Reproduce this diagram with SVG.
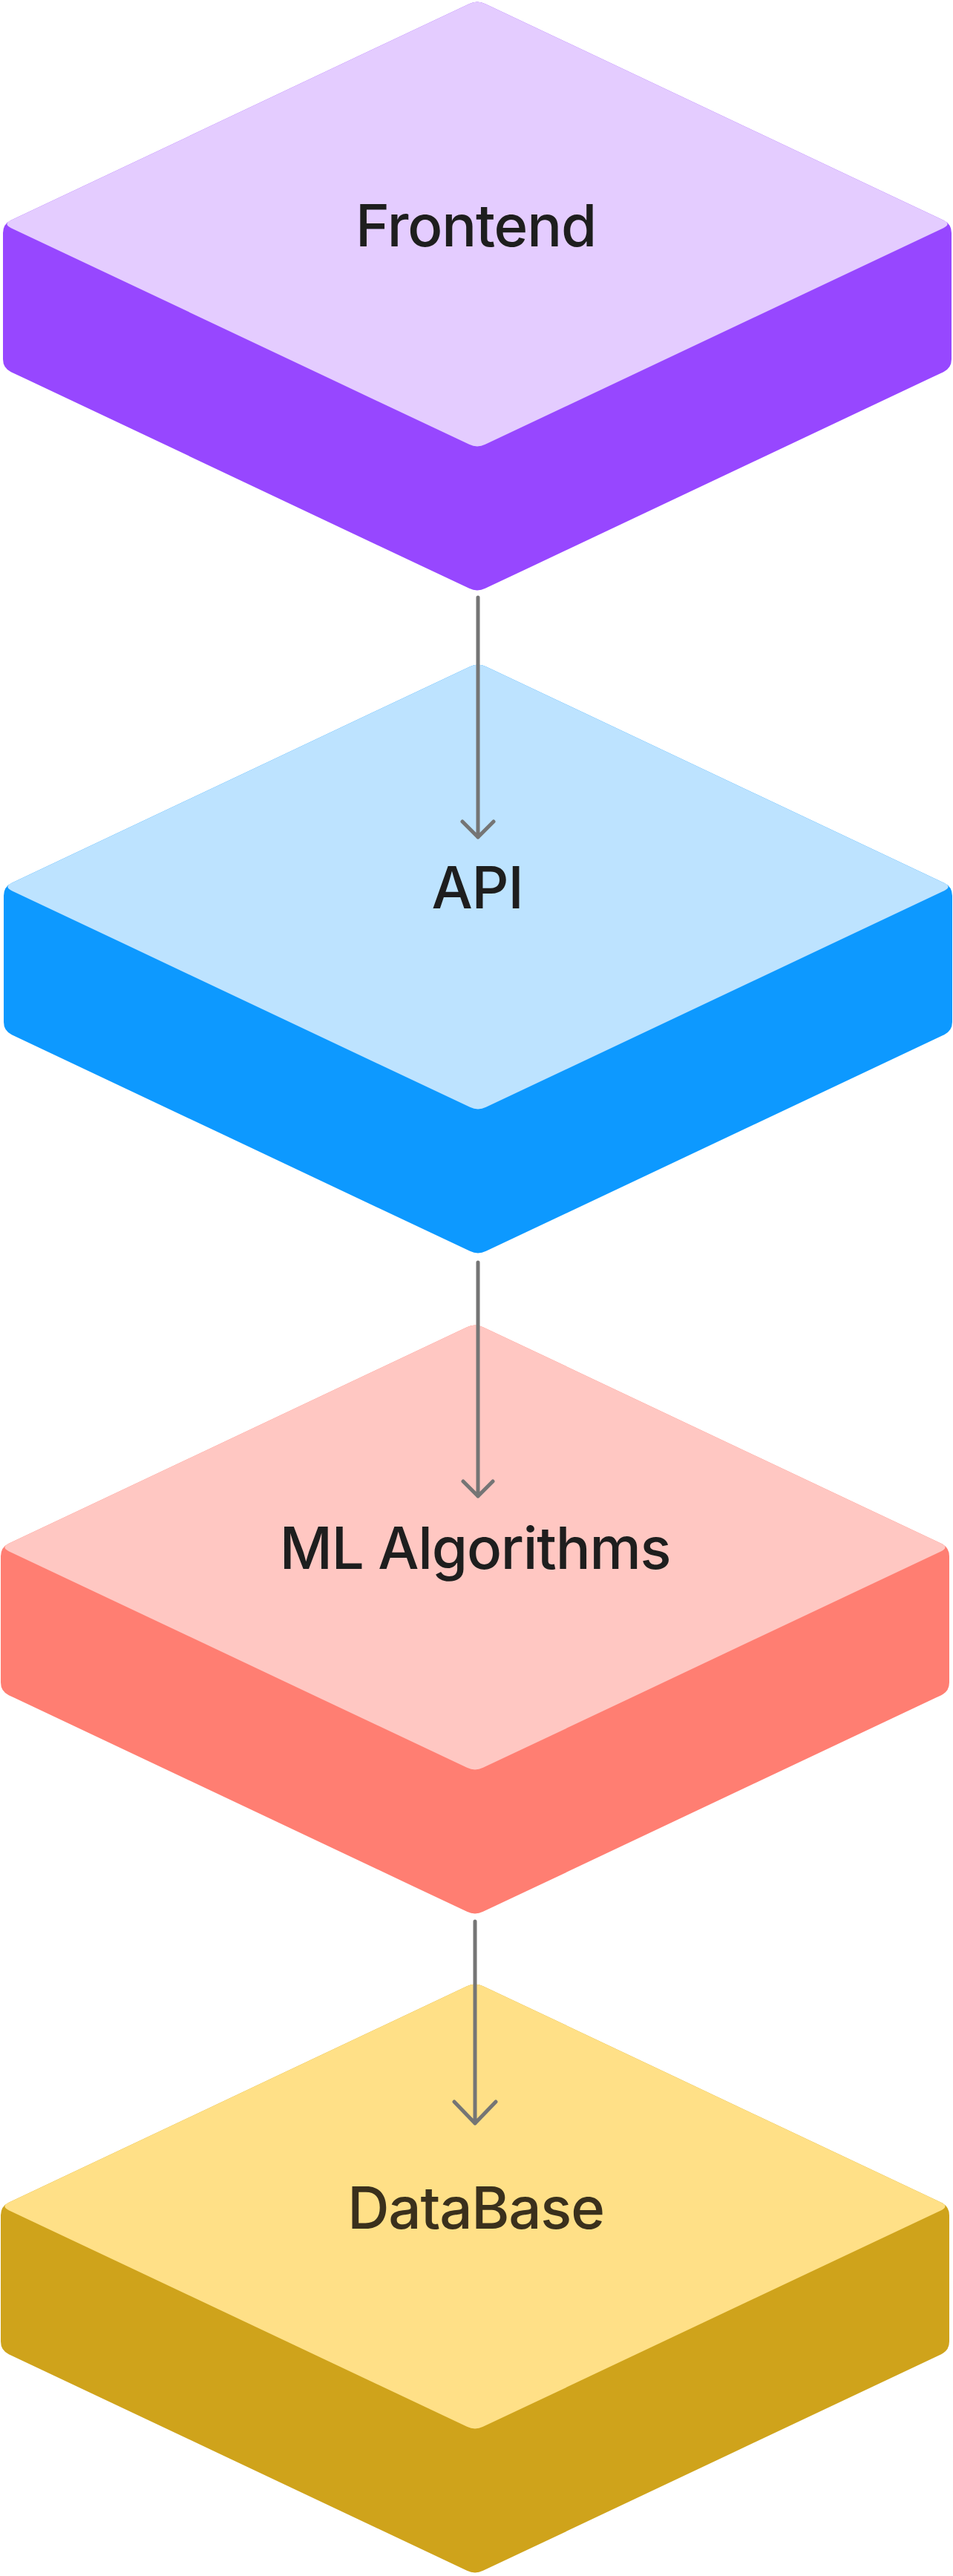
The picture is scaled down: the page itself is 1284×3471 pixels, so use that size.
<svg xmlns="http://www.w3.org/2000/svg" width="1284" height="3471" viewBox="0 0 1284 3471">
  <style>
    .label { font-family: Inter, "Liberation Sans", Arial, sans-serif; font-size: 78px; font-weight: 500; letter-spacing: -1.2px; text-anchor: middle; fill: #1E1E1E; }
    .conn { fill: none; stroke: #757575; stroke-width: 5; stroke-linecap: round; stroke-linejoin: round; }
  </style>
  <defs>
    <path id="blockSide" d="M10.85,5.13 L628.15,296.87 Q639,302 639,314 L639,484 Q639,496 628.15,501.13 L10.85,792.87 Q0,798 -10.85,792.87 L-628.15,501.13 Q-639,496 -639,484 L-639,314 Q-639,302 -628.15,296.87 L-10.85,5.13 Q0,0 10.85,5.13 Z"/>
    <path id="blockTop" d="M10.85,5.13 L628.15,296.87 Q639,302 628.15,307.13 L10.85,598.87 Q0,604 -10.85,598.87 L-628.15,307.13 Q-639,302 -628.15,296.87 L-10.85,5.13 Q0,0 10.85,5.13 Z"/>
  </defs>
  <rect x="0" y="0" width="1284" height="3471" fill="#FFFFFF"/>

  <g id="node-frontend" transform="translate(643,0)">
    <use href="#blockSide" fill="#9747FF"/>
    <use href="#blockTop" fill="#E4CCFF"/>
    <text class="label" x="-2" y="332">Frontend</text>
  </g>

  <g id="node-api" transform="translate(644,893)">
    <use href="#blockSide" fill="#0D99FF"/>
    <use href="#blockTop" fill="#BDE3FF"/>
    <text class="label" x="-1" y="331">API</text>
  </g>

  <g id="node-ml" transform="translate(640,1783)">
    <use href="#blockSide" fill="#FF7E72"/>
    <use href="#blockTop" fill="#FFC7C2"/>
    <text class="label" x="0" y="331">ML Algorithms</text>
  </g>

  <g id="node-database" transform="translate(640,2671)">
    <use href="#blockSide" fill="#CFA31B"/>
    <use href="#blockTop" fill="#FFE087"/>
    <text class="label" x="1" y="332" style="fill:#3A301C">DataBase</text>
  </g>

  <g id="connectors">
    <path class="conn" d="M644,805 L644,1128 M623,1107 L644,1128 L665,1107"/>
    <path class="conn" d="M644,1701 L644,2016 M624,1996 L644,2016 L664,1996"/>
    <path class="conn" d="M640,2589 L640,2861 M612,2832 L640,2861 L668,2832"/>
  </g>
</svg>
